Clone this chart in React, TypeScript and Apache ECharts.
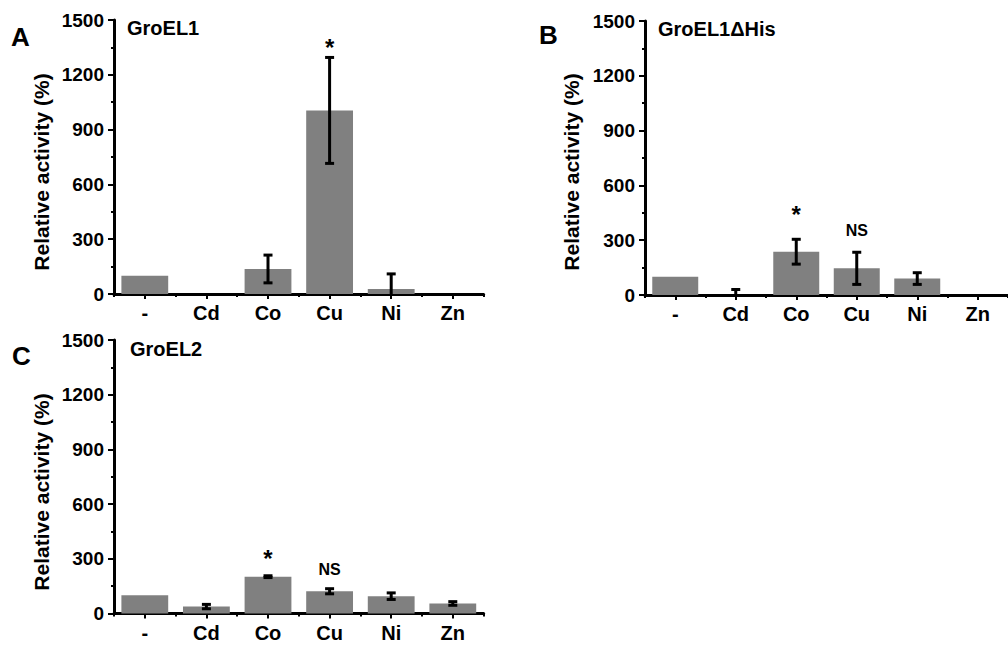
import React, { useEffect, useRef } from 'react';
import * as echarts from 'echarts';

// ---- data ----
const categories = ['-', 'Cd', 'Co', 'Cu', 'Ni', 'Zn'];

const groEL1Mean = [100, 0, 137, 1005, 27, 0];
const groEL1Err = [0, 0, 76, 290, 83, 0];

const groEL1dHisMean = [100, 0, 237, 146, 90, 0];
const groEL1dHisErr = [0, 30, 68, 88, 32, 0];

const groEL2Mean = [100, 38, 202, 122, 95, 55];
const groEL2Err = [0, 12, 5, 14, 18, 10];

const yMin = 0;
const yMax = 1500;
const yInterval = 300;

const annotA = [{ cat: 3, y: 1352, text: '*' }];
const annotB = [
  { cat: 2, y: 438, text: '*' },
  { cat: 3, y: 353, text: 'NS' },
];
const annotC = [
  { cat: 2, y: 302, text: '*' },
  { cat: 3, y: 241, text: 'NS' },
];

const panelTitles = ['GroEL1', 'GroEL1\u0394His', 'GroEL2'];
const panelLetters = ['A', 'B', 'C'];
const yTitle = 'Relative activity (%)';

const FONT = "'Liberation Sans', Arial, Helvetica, sans-serif";
const BAR_COLOR = '#808080';

function buildOption() {
  const grids = [
    { left: 114, top: 20, right: 524.4, bottom: 352 },
    { left: 645, top: 21, right: -6.6, bottom: 351 },
    { left: 114, top: 340, right: 524.4, bottom: 32.5 },
  ];
  const means = [groEL1Mean, groEL1dHisMean, groEL2Mean];
  const errs = [groEL1Err, groEL1dHisErr, groEL2Err];
  const annots = [annotA, annotB, annotC];

  const xAxis: any[] = [];
  const yAxis: any[] = [];
  const series: any[] = [];

  grids.forEach((g, i) => {
    xAxis.push({
      type: 'category',
      gridIndex: i,
      data: categories,
      boundaryGap: true,
      axisLine: { show: true, onZero: false, lineStyle: { color: '#000', width: 3 } },
      axisTick: { show: true, alignWithLabel: true, length: 5, lineStyle: { color: '#000', width: 2 } },
      axisLabel: {
        show: true,
        interval: 0,
        margin: 9,
        color: '#000',
        fontFamily: FONT,
        fontWeight: 'bold',
        fontSize: 20,
      },
      splitLine: { show: false },
    });
    // secondary axis: short ticks at category boundaries
    xAxis.push({
      type: 'category',
      gridIndex: i,
      data: categories,
      boundaryGap: true,
      position: 'bottom',
      axisLine: { show: false },
      axisTick: { show: true, interval: 0, length: 3, lineStyle: { color: '#000', width: 2 } },
      axisLabel: { show: false },
      splitLine: { show: false },
    });
    yAxis.push({
      type: 'value',
      gridIndex: i,
      min: yMin,
      max: yMax,
      interval: yInterval,
      axisLine: { show: true, lineStyle: { color: '#000', width: 3 } },
      axisTick: { show: true, length: 6, lineStyle: { color: '#000', width: 2 } },
      minorTick: { show: true, splitNumber: 2, length: 3, lineStyle: { color: '#000', width: 2 } },
      splitLine: { show: false },
      minorSplitLine: { show: false },
      axisLabel: {
        margin: 10,
        color: '#000',
        fontFamily: FONT,
        fontWeight: 'bold',
        fontSize: 19,
        formatter: (v: number) => String(v),
      },
    });

    const mean = means[i];
    const err = errs[i];
    series.push({
      type: 'bar',
      xAxisIndex: i * 2,
      yAxisIndex: i,
      data: mean,
      barCategoryGap: '24%',
      itemStyle: { color: BAR_COLOR },
      silent: true,
    });
    series.push({
      type: 'custom',
      xAxisIndex: i * 2,
      yAxisIndex: i,
      data: categories.map((c, k) => [k, mean[k], err[k]]),
      renderItem: (params: any, api: any) => {
        const k = api.value(0);
        const m = api.value(1);
        const e = api.value(2);
        if (!e) return null;
        const topP = api.coord([k, m + e]);
        const lowV = Math.max(0, m - e);
        const botP = api.coord([k, lowV]);
        const hw = 4.5;
        const st = { stroke: '#000', lineWidth: 3 };
        const children: any[] = [
          { type: 'line', shape: { x1: topP[0], y1: topP[1], x2: botP[0], y2: botP[1] }, style: st },
          { type: 'line', shape: { x1: topP[0] - hw, y1: topP[1], x2: topP[0] + hw, y2: topP[1] }, style: st },
        ];
        if (m - e > 0) {
          children.push({
            type: 'line',
            shape: { x1: botP[0] - hw, y1: botP[1], x2: botP[0] + hw, y2: botP[1] },
            style: st,
          });
        }
        return { type: 'group', children };
      },
      z: 3,
      silent: true,
    });
    const an = annots[i];
    series.push({
      type: 'custom',
      xAxisIndex: i * 2,
      yAxisIndex: i,
      data: an.map((a) => [a.cat, a.y]),
      renderItem: (params: any, api: any) => {
        const a = an[params.dataIndex];
        const p = api.coord([api.value(0), api.value(1)]);
        const isStar = a.text === '*';
        return {
          type: 'text',
          x: p[0],
          y: p[1],
          style: {
            text: a.text,
            fill: '#000',
            font: `bold ${isStar ? 24 : 16}px ${FONT}`,
            align: 'center',
            verticalAlign: 'middle',
          },
        };
      },
      z: 4,
      silent: true,
    });
  });

  const txt = (text: string, x: number, y: number, size: number) => ({
    type: 'text',
    x,
    y,
    style: {
      text,
      fill: '#000',
      font: `bold ${size}px ${FONT}`,
      align: 'left',
      verticalAlign: 'middle',
    },
  });
  const vtxt = (x: number, y: number) => ({
    type: 'text',
    x,
    y,
    rotation: Math.PI / 2,
    style: { text: yTitle, fill: '#000', font: `bold 21px ${FONT}`, align: 'center', verticalAlign: 'middle' },
  });

  const graphic: any[] = [
    txt(panelLetters[0], 11, 36.5, 26),
    txt(panelTitles[0], 127, 27.5, 20),
    txt(panelLetters[1], 539, 35, 26),
    txt(panelTitles[1], 658, 29, 20),
    txt(panelLetters[2], 12, 355.5, 26),
    txt(panelTitles[2], 130, 349, 20),
    vtxt(41, 172),
    vtxt(571.5, 172),
    vtxt(41, 492),
  ];

  return {
    animation: false,
    backgroundColor: '#ffffff',
    grid: grids.map((g) => ({ ...g, containLabel: false })),
    xAxis,
    yAxis,
    series,
    graphic,
  };
}

export default function App() {
  const ref = useRef<HTMLDivElement>(null);
  useEffect(() => {
    if (!ref.current) return;
    const chart = echarts.init(ref.current, undefined, { renderer: 'svg' });
    chart.setOption(buildOption() as any);
    return () => {
      chart.dispose();
    };
  }, []);
  return (
    <div
      ref={ref}
      style={{ position: 'absolute', left: 0, top: 0, width: 1008, height: 646, background: '#fff' }}
    />
  );
}
